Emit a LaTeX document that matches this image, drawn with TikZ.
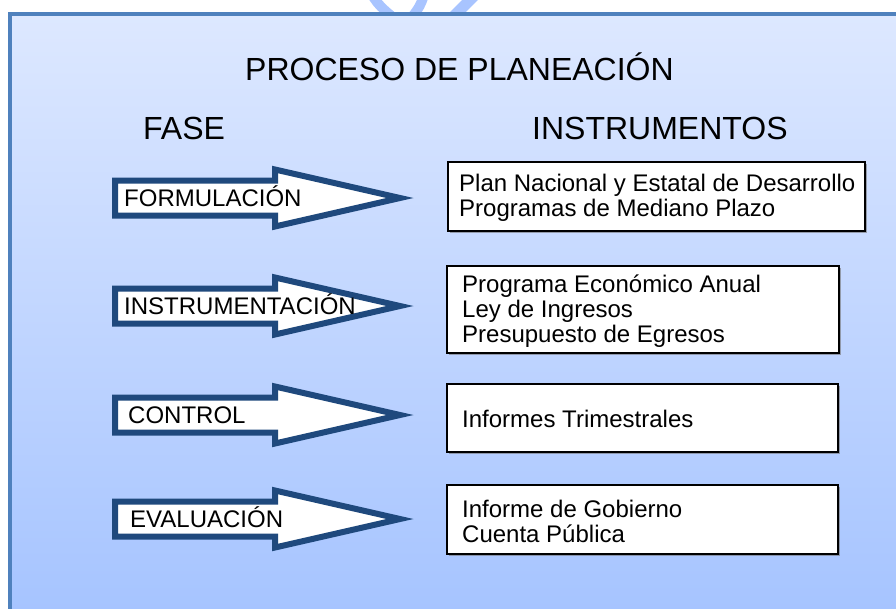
\documentclass[tikz,border=0pt]{standalone}
\usepackage{fontspec}
\setmainfont{Liberation Sans}
\usetikzlibrary{shadows}
\definecolor{bgtop}{RGB}{221,232,255}
\definecolor{bgbot}{RGB}{166,196,255}
\definecolor{framec}{RGB}{79,129,189}
\definecolor{arrowc}{RGB}{31,73,125}
\definecolor{markc}{RGB}{168,196,255}
\begin{document}
\begin{tikzpicture}[x=1pt,y=-1pt,
  phase/.style={draw=arrowc, fill=white, line width=6pt, line join=miter},
  lbl/.style={inner sep=0pt, font=\fontsize{24}{28}\selectfont},
  headtxt/.style={inner sep=0pt, font=\fontsize{32}{36}\selectfont},
  instbox/.style={draw=black, fill=white, line width=2pt, inner sep=0pt, anchor=north west,
    drop shadow={shadow xshift=1.5pt, shadow yshift=-1.5pt, fill=black!55, opacity=0.6}},
  itxt/.style={inner sep=0pt, anchor=base west, font=\fontsize{24}{28}\selectfont},
  markline/.style={draw=markc, line width=10pt}]
\useasboundingbox (0,0) rectangle (896,608);
\clip (0,0) rectangle (896,608);
% faint mark above the frame
\draw[markline] (369,-15) .. controls (371,-2) and (381,8) .. (394,18);
\draw[markline] (425,-15) .. controls (425,-3) and (420,8) .. (411,18);
\draw[markline, line width=11pt] (482,-12) -- (452,18);
% background panel
\shade[top color=bgtop, bottom color=bgbot] (10,14) rectangle (900,612);
\draw[framec, line width=4pt] (10,612) -- (10,14) -- (900,14);
% headings
\node[headtxt, anchor=base west] (title) at (245,80) {PROCESO DE PLANEACIÓN};
\node[headtxt, anchor=base west] (fase) at (143,139) {FASE};
\node[headtxt, anchor=base west] (instr) at (532,139) {INSTRUMENTOS};
% phase arrows
\foreach \cy/\nm/\tx/\lab in {198/f/124/FORMULACIÓN, 306/i/124/INSTRUMENTACIÓN, 415/c/128/CONTROL, 519/e/130/EVALUACIÓN}{
  \draw[phase] (115,\cy-17.5) -- (275,\cy-17.5) -- (275,\cy-28.5) -- (400,\cy)
     -- (275,\cy+28.5) -- (275,\cy+17.5) -- (115,\cy+17.5) -- cycle;
  \node[lbl, anchor=base west] (lab-\nm) at (\tx,\cy+8) {\lab};
}
% instrument boxes
\node[instbox, minimum width=417, minimum height=69] (b1) at (447,161) {};
\node[instbox, minimum width=392, minimum height=87] (b2) at (446,265) {};
\node[instbox, minimum width=391, minimum height=68] (b3) at (446,383) {};
\node[instbox, minimum width=391, minimum height=69] (b4) at (446,484) {};
\node[itxt] (b1a) at (459,191) {Plan Nacional y Estatal de Desarrollo};
\node[itxt] (b1b) at (459,216) {Programas de Mediano Plazo};
\node[itxt] (b2a) at (462,292) {Programa Económico Anual};
\node[itxt] (b2b) at (462,317) {Ley de Ingresos};
\node[itxt] (b2c) at (462,342) {Presupuesto de Egresos};
\node[itxt] (b3a) at (462,427) {Informes Trimestrales};
\node[itxt] (b4a) at (462,517) {Informe de Gobierno};
\node[itxt] (b4b) at (462,542) {Cuenta Pública};
\end{tikzpicture}
\end{document}
